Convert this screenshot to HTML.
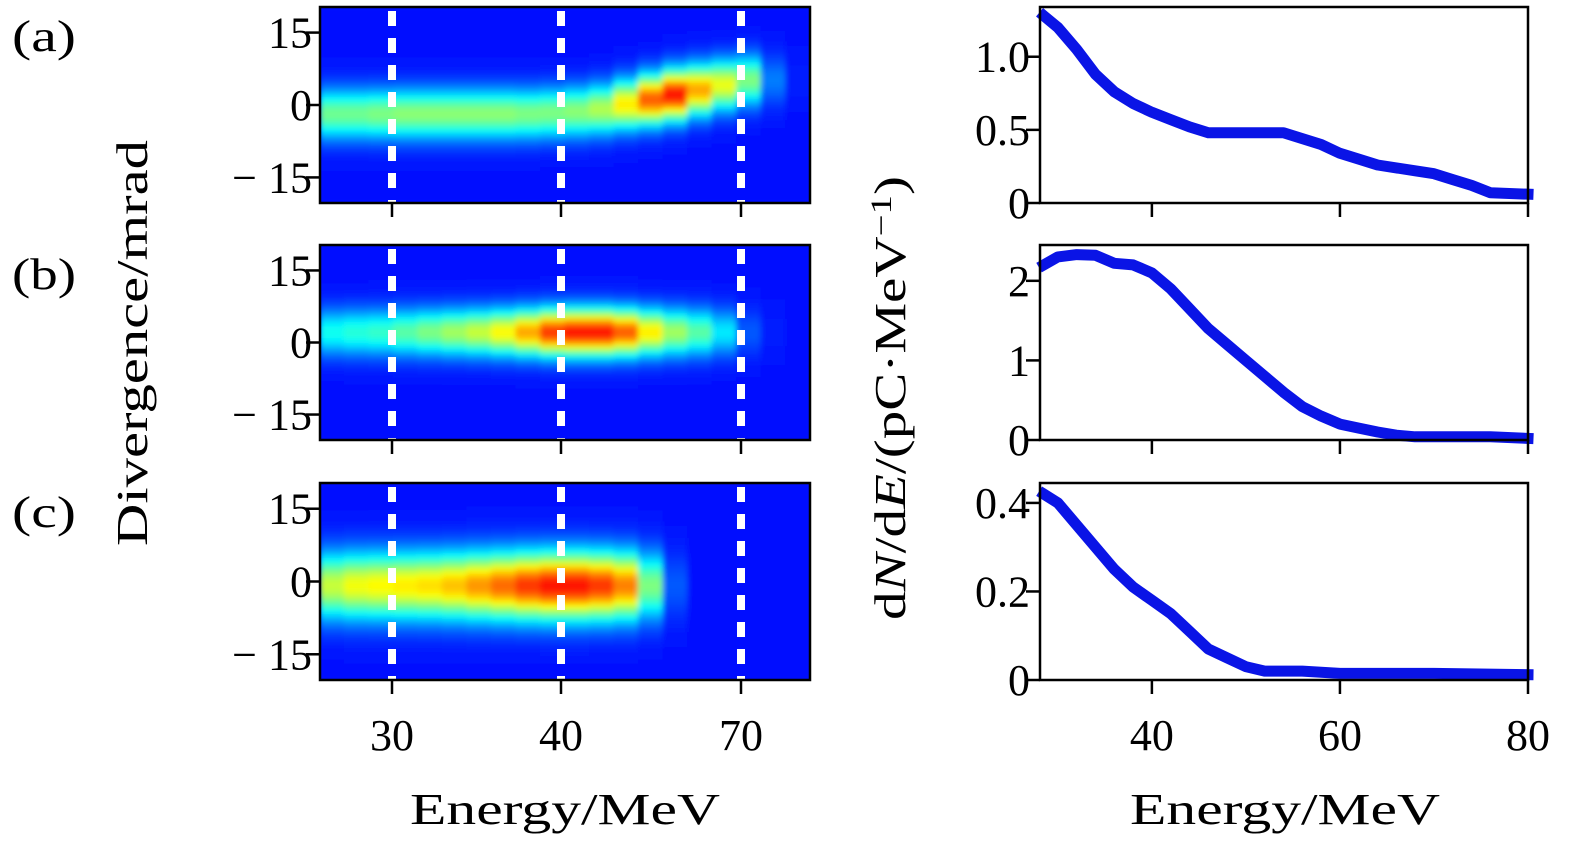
<!DOCTYPE html>
<html><head><meta charset="utf-8"><style>
html,body{margin:0;padding:0;background:#fff;}
svg{display:block;font-family:"Liberation Serif",serif;}
</style></head><body>
<svg id="fig" width="1575" height="846" viewBox="0 0 1575 846">
<defs><filter id="blur" x="0" y="0" width="1" height="1"><feGaussianBlur stdDeviation="3"/></filter>
<clipPath id="c0"><rect x="320" y="7" width="490" height="196"/></clipPath>
<clipPath id="c1"><rect x="320" y="245" width="490" height="195"/></clipPath>
<clipPath id="c2"><rect x="320" y="483" width="490" height="197"/></clipPath>
</defs>
<g id="layer"></g>
</svg>
<script>
// ---- heatmap data (20 energy bins per panel) ----
const heatCols = 20;
const intensityA = [0.48,0.48,0.5,0.52,0.52,0.52,0.52,0.52,0.5,0.5,0.52,0.57,0.7,0.9,1.0,0.8,0.65,0.5,0.15,0.02];
const centerA = [-2,-2,-2,-2,-2,-2,-2,-2,-2,-1.8,-1.5,-1,0,1,2,3,4,5,5,5];
const intensityB = [0.35,0.38,0.4,0.45,0.5,0.55,0.6,0.68,0.8,0.95,1.0,1.0,0.9,0.7,0.55,0.45,0.3,0.1,0.02,0];
const centerB = [2,2,2,2,2,2,2,2,2,2,2,2,2,2,2,2,2,2,2,2];
const intensityC = [0.6,0.66,0.68,0.7,0.72,0.76,0.82,0.88,0.95,1.0,1.0,0.95,0.85,0.5,0.1,0,0,0,0,0];
const centerC = [-1,-1,-1,-1,-1,-1,-1,-1,-1,-1,-1,-1,-1,-1,-1,-1,-1,-1,-1,-1];
const sigmaABC = [3.6,3.4,4.8];
const divTicks = [15,0,-15];
const heatXTicks = ["30","40","70"];
// ---- spectra ----
const specE_A = [28.5,30,32,34,36,38,40,42,44,46,50,54,56,58,60,62,64,66,68,70,72,74,76,80];
const specN_A = [1.28,1.2,1.05,0.88,0.76,0.68,0.62,0.57,0.52,0.48,0.48,0.48,0.44,0.4,0.34,0.3,0.26,0.24,0.22,0.2,0.16,0.12,0.07,0.06];
const specE_B = [28.5,30,32,34,36,38,40,42,44,46,48,50,52,54,56,58,60,62,64,66,68,72,76,80];
const specN_B = [2.2,2.3,2.33,2.32,2.22,2.2,2.1,1.9,1.65,1.4,1.2,1.0,0.8,0.6,0.42,0.3,0.2,0.15,0.1,0.06,0.04,0.04,0.04,0.02];
const specE_C = [28.5,30,32,34,36,38,40,42,44,46,48,50,52,56,60,70,80];
const specN_C = [0.42,0.4,0.35,0.3,0.25,0.21,0.18,0.15,0.11,0.07,0.05,0.03,0.02,0.02,0.015,0.015,0.012];
const specYTicksA = [0,0.5,1.0], specYLabA = ["0","0.5","1.0"];
const specYTicksB = [0,1,2], specYLabB = ["0","1","2"];
const specYTicksC = [0,0.2,0.4], specYLabC = ["0","0.2","0.4"];
const specXTicks = [40,60,80];

const NS="http://www.w3.org/2000/svg";
const L=document.getElementById('layer');
function mk(t,a,p){const e=document.createElementNS(NS,t);for(const k in a)e.setAttribute(k,a[k]);(p||L).appendChild(e);return e;}
function jet(v){v=Math.max(0,Math.min(1,v));
 const r=Math.max(0,Math.min(1,1.5-Math.abs(4*v-3))),g=Math.max(0,Math.min(1,1.5-Math.abs(4*v-2))),b=Math.max(0,Math.min(1,1.5-Math.abs(4*v-1)));
 return `rgb(${Math.round(r*255)},${Math.round(g*255)},${Math.round(b*255)})`;}
const FS=44;

const hx0=320,hx1=810;
const panelsY=[[7,203],[245,440],[483,680]];
const heat=[[intensityA,centerA],[intensityB,centerB],[intensityC,centerC]];
const labels=["(a)","(b)","(c)"];
const heatTickX=[392,561,741];
const rows=50;
panelsY.forEach((py,p)=>{
 const [y0,y1]=py; const ys=v=>y0+(20.3-v)/40.6*(y1-y0);
 const g=mk('g',{'clip-path':`url(#c${p})`});
 
 
 mk('rect',{x:hx0,y:y0,width:hx1-hx0,height:y1-y0,fill:jet(0.14)},g);
 const gb=mk('g',{filter:'url(#blur)'},g);
 const cw=(hx1-hx0)/heatCols, rh=(y1-y0)/rows;
 const [I,C]=heat[p];
 for(let i=0;i<heatCols;i++){for(let r=0;r<rows;r++){
  const d=20.3-(r+0.5)*40.6/rows;
  const v=0.14+(I[i])*0.72*Math.exp(-Math.pow(d-C[i],2)/(2*sigmaABC[p]*sigmaABC[p]));
  const c=mk('rect',{x:hx0+i*cw-0.5,y:y0+r*rh-0.5,width:cw+1,height:rh+1,fill:jet(v)},gb);
  
  
 }}
 heatTickX.forEach(x=>{
  const dl=mk('line',{x1:x,y1:y0+4,x2:x,y2:y1,stroke:'#fff','stroke-width':8,'stroke-dasharray':'15 12'},g);
  
  
 });
 const fr=mk('rect',{x:hx0,y:y0,width:hx1-hx0,height:y1-y0,fill:'none',stroke:'#000','stroke-width':2.5});
 
 
 divTicks.forEach(t=>{
  mk('line',{x1:hx0-14,y1:ys(t),x2:hx0,y2:ys(t),stroke:'#000','stroke-width':2.5});
  const tx=mk('text',{x:312,y:ys(t)+15,'text-anchor':'end','font-size':FS});
  tx.textContent=t<0?"\u2212 "+Math.abs(t):String(t);
  
  
 });
 heatTickX.forEach(x=>mk('line',{x1:x,y1:y1,x2:x,y2:y1+14,stroke:'#000','stroke-width':2.5}));
 const lb=mk('text',{x:12,y:y0+44,'font-size':FS,textLength:64,lengthAdjust:'spacingAndGlyphs'});lb.textContent=labels[p];
 
 
});
heatTickX.forEach((x,i)=>{const t=mk('text',{x:x,y:750,'text-anchor':'middle','font-size':FS});t.textContent=heatXTicks[i];
 
 });

// spectra
const sx0=1040,sx1=1528; const xs=e=>sx0+(e-28.1)/(80-28.1)*(sx1-sx0);
const spec=[[specE_A,specN_A,1.34,specYTicksA,specYLabA],[specE_B,specN_B,2.45,specYTicksB,specYLabB],[specE_C,specN_C,0.445,specYTicksC,specYLabC]];
panelsY.forEach((py,p)=>{
 const [y0,y1]=py; const [E,N,top,tk,tl]=spec[p];
 const ys=v=>y1-v/top*(y1-y0);
 const pts=E.map((e,i)=>xs(e).toFixed(1)+','+ys(N[i]).toFixed(1)).join(' ');
 const cl=mk('polyline',{points:pts,fill:'none',stroke:'#0a14e6','stroke-width':11,'stroke-linejoin':'round','stroke-linecap':'square'});
 
 
 const fr=mk('rect',{x:sx0,y:y0,width:sx1-sx0,height:y1-y0,fill:'none',stroke:'#000','stroke-width':2.5});
 
 
 tk.forEach((t,i)=>{mk('line',{x1:sx0-14,y1:ys(t),x2:sx0,y2:ys(t),stroke:'#000','stroke-width':2.5});
  const tx=mk('text',{x:1030,y:ys(t)+15,'text-anchor':'end','font-size':FS});tx.textContent=tl[i];
  
  });
 specXTicks.forEach(e=>mk('line',{x1:xs(e),y1:y1,x2:xs(e),y2:y1+14,stroke:'#000','stroke-width':2.5}));
});
specXTicks.forEach(e=>{const t=mk('text',{x:xs(e),y:750,'text-anchor':'middle','font-size':FS});t.textContent=String(e);
 
 });

// axis titles
let t=mk('text',{x:410,y:824,'font-size':FS,textLength:310,lengthAdjust:'spacingAndGlyphs'});t.textContent="Energy/MeV";


t=mk('text',{x:1130,y:824,'font-size':FS,textLength:310,lengthAdjust:'spacingAndGlyphs'});t.textContent="Energy/MeV";


t=mk('text',{x:-203,y:0,'font-size':FS,textLength:406,lengthAdjust:'spacingAndGlyphs',transform:'translate(147,343) rotate(-90)'});t.textContent="Divergence/mrad";


t=mk('text',{x:-222,y:0,'font-size':FS,textLength:444,lengthAdjust:'spacingAndGlyphs',transform:'translate(905,398) rotate(-90)'});
t.innerHTML='d<tspan font-style="italic">N</tspan>/d<tspan font-style="italic">E</tspan>/(pC·MeV<tspan dy="-14" font-size="30">−1</tspan><tspan dy="14">)</tspan>';


</script>
</body></html>
